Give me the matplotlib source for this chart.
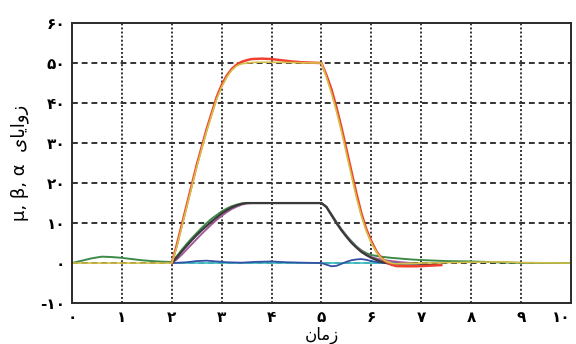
import matplotlib
matplotlib.use("Agg")
import matplotlib.pyplot as plt

# زاویه‌ها بر حسب زمان (مقادیر از روی شکل خوانده شده)
red_t = [2.0, 2.1, 2.2, 2.3, 2.4, 2.5, 2.6, 2.7, 2.8, 2.9, 3.0, 3.1, 3.2, 3.3, 3.4,
         3.5, 3.6, 3.8, 4.0, 4.2, 4.4, 4.6, 4.8, 5.0, 5.1, 5.2, 5.3, 5.4, 5.5, 5.6,
         5.7, 5.8, 5.9, 6.0, 6.1, 6.2, 6.3, 6.4, 6.5, 6.7, 6.9, 7.1, 7.4]
red_v = [0, 4.5, 9.5, 14.5, 19.5, 24.5, 29, 33.5, 37.5, 41.5, 44.5, 46.8, 48.5, 49.6, 50.3,
         50.7, 51.0, 51.1, 51.0, 50.7, 50.4, 50.2, 50.1, 50.0, 47.0, 43.5, 39.0, 34.0, 28.5, 23.0,
         17.5, 12.5, 8.5, 5.5, 3.0, 1.3, 0.3, -0.4, -0.75, -0.8, -0.8, -0.7, -0.5]

yellow_t = [0, 2.0, 2.1, 2.2, 2.3, 2.4, 2.5, 2.6, 2.7, 2.8, 2.9, 3.0, 3.1, 3.2, 3.3, 3.4,
            3.5, 3.7, 4.0, 4.5, 5.0, 5.1, 5.2, 5.3, 5.4, 5.5, 5.6, 5.7, 5.8, 5.9, 6.0,
            6.1, 6.2, 6.3, 6.4, 6.5, 7.0, 8.0, 8.6, 9.0, 10.0]
yellow_v = [0, 0, 4.0, 9.0, 14.0, 19.0, 24.0, 28.5, 33.0, 37.0, 41.0, 44.0, 46.4, 48.2, 49.3, 49.8,
            50.0, 50.2, 50.2, 50.1, 50.0, 46.5, 42.5, 38.0, 33.0, 27.5, 22.0, 16.5, 11.8, 8.0, 5.0,
            2.8, 1.2, 0.4, 0.0, -0.2, 0.0, 0.2, 0.3, 0.1, 0.0]

black_t = [2.0, 2.1, 2.2, 2.3, 2.4, 2.5, 2.6, 2.7, 2.8, 2.9, 3.0, 3.1, 3.2, 3.3, 3.4, 3.5,
           3.6, 4.0, 4.5, 5.0, 5.1, 5.2, 5.3, 5.4, 5.5, 5.6, 5.7, 5.8, 5.9, 6.0, 6.1,
           6.2, 6.3, 6.4, 6.5, 6.7, 6.9, 7.1, 7.4]
black_v = [0, 1.4, 2.9, 4.3, 5.7, 7.0, 8.2, 9.3, 10.4, 11.4, 12.4, 13.2, 13.9, 14.4, 14.8, 15.0,
           15.0, 15.0, 15.0, 15.0, 14.0, 12.0, 10.0, 8.2, 6.6, 5.1, 3.9, 2.8, 2.0, 1.3, 0.8,
           0.3, 0.0, -0.3, -0.5, -0.6, -0.6, -0.5, -0.4]

purple_t = [2.0, 2.1, 2.2, 2.3, 2.4, 2.5, 2.6, 2.7, 2.8, 2.9, 3.0, 3.1, 3.2, 3.3, 3.4, 3.5,
            3.6, 4.0, 4.5, 5.0, 5.1, 5.2, 5.3, 5.4, 5.5, 5.6, 5.7, 5.8, 5.9, 6.0, 6.2,
            6.4, 6.6, 6.8]
purple_v = [0, 0.9, 2.1, 3.4, 4.7, 6.0, 7.3, 8.5, 9.7, 10.8, 11.8, 12.7, 13.5, 14.1, 14.6, 14.9,
            15.0, 15.0, 15.0, 15.0, 14.1, 12.2, 10.2, 8.4, 6.8, 5.3, 4.0, 3.0, 2.1, 1.5, 0.8,
            0.5, 0.2, 0.0]

green_t = [0, 0.2, 0.4, 0.6, 0.8, 1.0, 1.2, 1.4, 1.6, 1.8, 2.0, 2.1, 2.2, 2.3, 2.4, 2.5,
           2.6, 2.7, 2.8, 2.9, 3.0, 3.1, 3.2, 3.3, 3.4, 3.5, 4.0, 4.5, 5.0, 5.1, 5.2,
           5.3, 5.4, 5.5, 5.6, 5.7, 5.8, 5.9, 6.0, 6.2, 6.4, 6.6, 6.8, 7.0, 7.5, 8.0,
           8.5, 9.0, 10.0]
green_v = [0, 0.6, 1.2, 1.6, 1.5, 1.3, 1.0, 0.7, 0.5, 0.35, 0.25, 1.7, 3.3, 4.8, 6.2, 7.5,
           8.8, 10.0, 11.1, 12.0, 12.9, 13.6, 14.2, 14.6, 14.9, 15.0, 15.0, 15.0, 15.0, 14.1, 12.2,
           10.3, 8.5, 6.9, 5.5, 4.2, 3.2, 2.5, 2.0, 1.6, 1.3, 1.1, 0.9, 0.75, 0.5, 0.4,
           0.2, 0.05, 0.0]

blue_t = [2.0, 2.3, 2.5, 2.7, 2.9, 3.1, 3.4, 3.7, 4.0, 4.3, 4.6, 5.0, 5.1, 5.2, 5.3, 5.4,
          5.5, 5.6, 5.7, 5.8, 5.9, 6.0, 6.2, 6.5]
blue_v = [0, 0.2, 0.5, 0.6, 0.4, 0.2, 0.1, 0.3, 0.4, 0.2, 0.1, 0.0, -0.4, -0.8, -0.7, -0.2,
          0.3, 0.7, 0.9, 1.0, 0.8, 0.5, 0.1, 0.0]

cyan_t = [2.0, 6.8]
cyan_v = [0, 0]

x_ticks = [0, 1, 2, 3, 4, 5, 6, 7, 8, 9, 10]
x_tick_labels = ["۰", "۱", "۲", "۳", "۴", "۵", "۶", "۷", "۸", "۹", "۱۰"]
y_ticks = [-10, 0, 10, 20, 30, 40, 50, 60]
y_tick_labels = ["-۱۰", "۰", "۱۰", "۲۰", "۳۰", "۴۰", "۵۰", "۶۰"]

# متن فارسی به شکل نمایشی (چپ به راست، حروف متصل)
x_label = "\uFEE5\uFE8E\uFEE3\uFEAF"                      # زمان
y_label = "μ, β, α  \uFEEF\uFE8E\uFEF3\uFE8D\uFEED\uFEAF"   # زوایای α, β, μ

plt.rcParams["font.family"] = ["DejaVu Sans"]

fig = plt.figure(figsize=(5.76, 3.44), dpi=100)
ax = fig.add_axes([0.125, 0.119, 0.866, 0.814])

ax.plot(cyan_t, cyan_v, color="#45c3c8", lw=1.3)
ax.plot(blue_t, blue_v, color="#3550a5", lw=1.3)
ax.plot(green_t, green_v, color="#3d8a4a", lw=1.4)
ax.plot(purple_t, purple_v, color="#a35a9c", lw=1.4)
ax.plot(black_t, black_v, color="#3a3a3a", lw=1.6)
ax.plot(red_t, red_v, color="#f2402e", lw=1.8)
ax.plot(yellow_t, yellow_v, color="#d4c04a", lw=1.2)

ax.set_xlim(0, 10)
ax.set_ylim(-10, 60)
ax.set_xticks(x_ticks)
ax.set_xticklabels(x_tick_labels, fontsize=11, fontweight="bold")
ax.set_yticks(y_ticks)
ax.set_yticklabels(y_tick_labels, fontsize=11, fontweight="bold")
ax.tick_params(length=0, pad=5)
ax.get_xticklabels()[-1].set_horizontalalignment("right")

for x in x_ticks[1:-1]:
    ax.axvline(x, color="#333333", lw=1.4, linestyle=(0, (1, 1.1)), zorder=0)
for y in y_ticks[1:-1]:
    ax.axhline(y, color="#333333", lw=1.4, linestyle=(0, (3, 2)), zorder=0)

for s in ax.spines.values():
    s.set_color("#2a2a2a")
    s.set_linewidth(1.4)

ax.set_xlabel(x_label, fontsize=12, labelpad=1)
ax.set_ylabel(y_label, fontsize=13, labelpad=8)

fig.savefig("out.png", dpi=100)
